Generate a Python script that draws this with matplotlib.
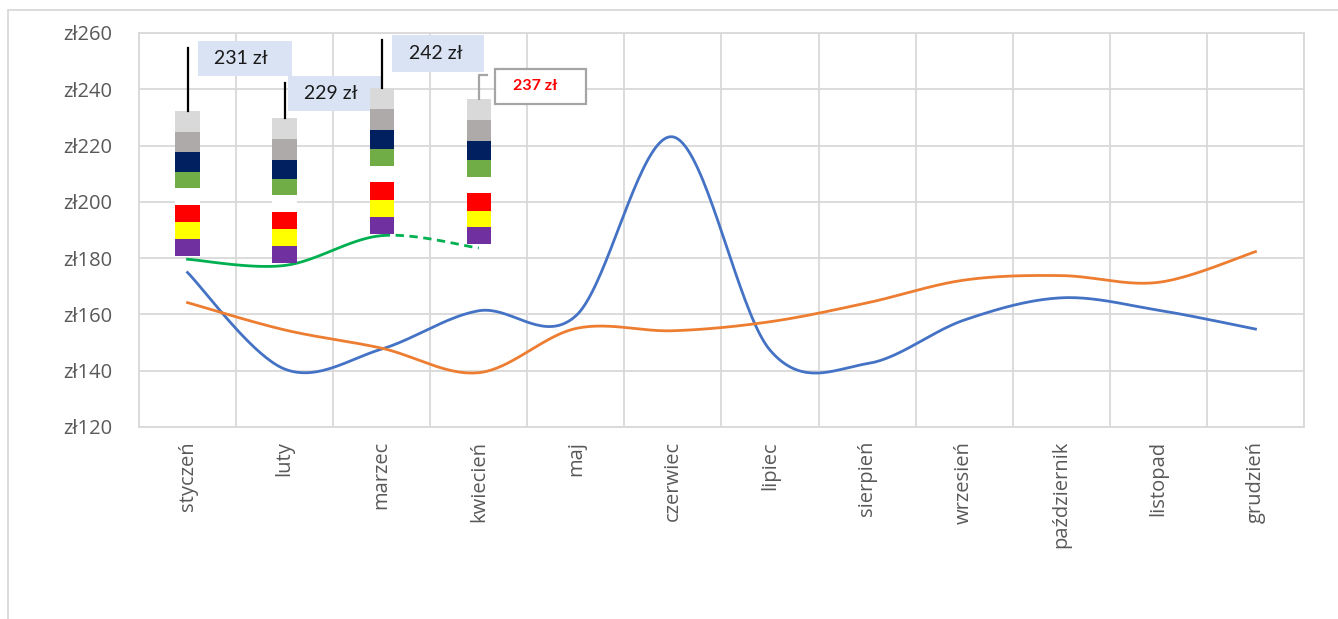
import numpy as np
import matplotlib
matplotlib.use('Agg')
import matplotlib.pyplot as plt
from matplotlib.patches import Rectangle

plt.rcParams['font.family'] = ['Open Sans', 'DejaVu Sans']

# Data
months = ['styczeń', 'luty', 'marzec', 'kwiecień', 'maj', 'czerwiec', 'lipiec',
          'sierpień', 'wrzesień', 'październik', 'listopad', 'grudzień']
blue = [174.9, 140.6, 147.7, 161.3, 159.5, 223.1, 147.3, 142.5, 158.0, 165.9, 161.5, 154.8]
orange = [164.2, 154.5, 148.0, 139.3, 155.0, 154.2, 157.4, 164.1, 172.2, 173.8, 171.4, 182.3]
green = [179.6, 177.4, 188.0, 183.6]

# stacked markers for first four months
bar_base = [180.8, 178.3, 188.6, 185.0]
seg_purple = [6.0, 5.9, 6.0, 6.1]
seg_yellow = [6.0, 6.2, 6.2, 5.8]
seg_red = [6.1, 6.1, 6.3, 6.3]
seg_white = [6.0, 5.9, 5.6, 5.6]
seg_green = [5.7, 5.7, 6.1, 6.1]
seg_navy = [7.1, 6.8, 6.7, 6.7]
seg_gray = [7.1, 7.4, 7.5, 7.5]
seg_light = [7.5, 7.5, 7.4, 7.5]
whisker_top = [254.7, 242.2, 257.5, 245.0]
bar_labels = ['231 zł', '229 zł', '242 zł', '237 zł']

y_ticks = [120, 140, 160, 180, 200, 220, 240, 260]


def smooth(ys, n=40):
    # Excel-like smoothed line (Catmull-Rom as cubic Bezier)
    y = np.asarray(ys, float)
    x = np.arange(len(y), dtype=float)
    px = np.concatenate([[x[0]], x, [x[-1]]])
    py = np.concatenate([[y[0]], y, [y[-1]]])
    out_x, out_y = [], []
    t = np.linspace(0, 1, n)
    for i in range(len(y) - 1):
        x0, x1, x2, x3 = px[i], px[i + 1], px[i + 2], px[i + 3]
        y0, y1, y2, y3 = py[i], py[i + 1], py[i + 2], py[i + 3]
        cx1, cy1 = x1 + (x2 - x0) / 6, y1 + (y2 - y0) / 6
        cx2, cy2 = x2 - (x3 - x1) / 6, y2 - (y3 - y1) / 6
        bx = (1 - t) ** 3 * x1 + 3 * (1 - t) ** 2 * t * cx1 + 3 * (1 - t) * t ** 2 * cx2 + t ** 3 * x2
        by = (1 - t) ** 3 * y1 + 3 * (1 - t) ** 2 * t * cy1 + 3 * (1 - t) * t ** 2 * cy2 + t ** 3 * y2
        out_x.extend(bx)
        out_y.extend(by)
    return np.array(out_x), np.array(out_y)


fig = plt.figure(figsize=(13.38, 6.19), dpi=100)
ax = fig.add_axes([139 / 1338, 1 - 427 / 619, (1304 - 139) / 1338, (427 - 33) / 619])

grid_c = '#D9D9D9'
txt_c = '#595959'

# outer chart border
fig.patches.append(Rectangle((7.5 / 1338, -0.1), 1.2, 1 - 9.5 / 619 + 0.1,
                             transform=fig.transFigure, fill=False,
                             edgecolor=grid_c, lw=1.3))

x = np.arange(len(months))

# lines
bx, by = smooth(blue)
ax.plot(bx, by, color='#4472C4', lw=2, zorder=3)
ox, oy = smooth(orange)
ax.plot(ox, oy, color='#ED7D31', lw=2, zorder=3)
gx, gy = smooth(green)
ax.plot(gx[gx <= 2.0], gy[gx <= 2.0], color='#00B050', lw=2, zorder=3)
ax.plot(gx[gx >= 2.0], gy[gx >= 2.0], color='#00B050', lw=2, ls=(0, (3, 2)), zorder=3)

# label boxes: (x0, x1, y0, y1, text x)
boxes = [(0.108, 1.077, 244.7, 257.2, 0.55),
         (1.036, 2.0, 232.3, 244.7, 1.48),
         (2.108, 3.057, 246.2, 259.3, 2.56)]
for (x0, x1, y0, y1, tx), lab in zip(boxes, bar_labels[:3]):
    ax.add_patch(Rectangle((x0, y0), x1 - x0, y1 - y0, facecolor='#DAE3F3',
                           edgecolor='none', zorder=4))
    ax.text(tx, (y0 + y1) / 2, lab, ha='center', va='center', fontsize=14,
            family=['Lato', 'DejaVu Sans'], color='#1A1A1A', zorder=4.5)
ax.add_patch(Rectangle((3.17, 234.8), 0.938, 12.4, facecolor='white',
                       edgecolor='#A5A5A5', lw=1.6, zorder=4))
ax.text(3.58, 241.0, bar_labels[3], ha='center', va='center', fontsize=11.5,
        fontweight='bold', family=['Lato', 'DejaVu Sans'], color='#FF0000', zorder=4.5)

# stacked markers
bx_pos = x[:4]
w = 0.25
bottom = np.array(bar_base)
for seg, col in [(seg_purple, '#7030A0'), (seg_yellow, '#FFFF00'), (seg_red, '#FF0000'),
                 (seg_white, '#FFFFFF'), (seg_green, '#70AD47'), (seg_navy, '#002060'),
                 (seg_gray, '#AEAAAA'), (seg_light, '#D9D9D9')]:
    ax.bar(bx_pos, seg, w, bottom=bottom, color=col, zorder=5)
    bottom = bottom + np.array(seg)
bar_top = bottom

# leader lines
for i in range(3):
    ax.plot([bx_pos[i], bx_pos[i]], [bar_top[i], whisker_top[i]], color='black', lw=1.6, zorder=5)
ax.plot([bx_pos[3], bx_pos[3], bx_pos[3] + 0.08], [bar_top[3], whisker_top[3], whisker_top[3]],
        color='#A5A5A5', lw=1.6, zorder=5)

# axes
ax.set_xlim(-0.5, len(months) - 0.5)
ax.set_ylim(120, 260)
ax.set_yticks(y_ticks)
ax.set_yticklabels([f'zł{v}' for v in y_ticks])
ax.set_xticks(x)
ax.set_xticklabels(months, rotation=90, va='top', ha='center')
ax.set_xticks(np.arange(-0.5, len(months), 1), minor=True)
ax.tick_params(axis='both', which='both', length=0, colors=txt_c, labelsize=14.5)
ax.tick_params(axis='y', pad=19)
ax.tick_params(axis='x', pad=10)
ax.grid(axis='y', which='major', color=grid_c, lw=1.3, zorder=0)
ax.grid(axis='x', which='minor', color=grid_c, lw=1.3, zorder=0)
ax.set_axisbelow(True)
for s in ax.spines.values():
    s.set_color(grid_c)
    s.set_linewidth(1.3)

fig.savefig('out.png', dpi=100)
